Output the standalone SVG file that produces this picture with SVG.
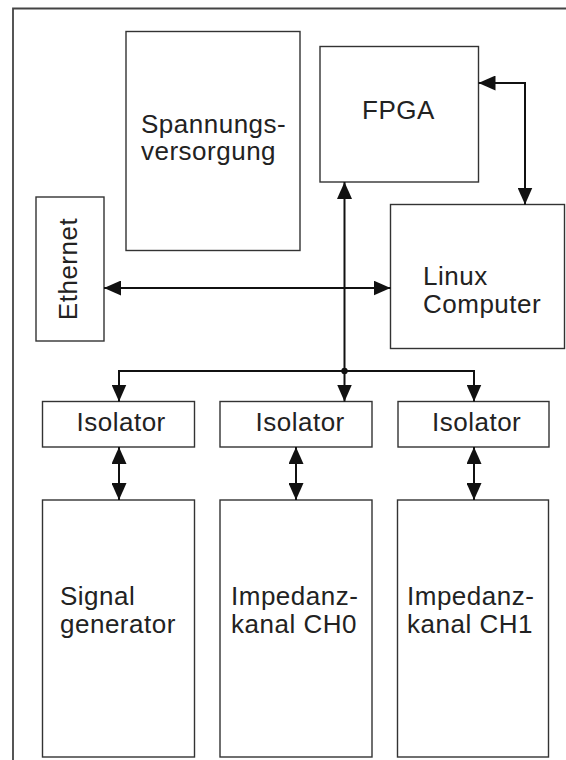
<svg xmlns="http://www.w3.org/2000/svg" width="566" height="760" viewBox="0 0 566 760">
  <style>
    .box { fill: #ffffff; stroke: #333333; stroke-width: 1.4; }
    .frame { fill: none; stroke: #444444; stroke-width: 1.8; }
    .conn { fill: none; stroke: #111111; stroke-width: 2; }
    .lbl { font-family: "Liberation Sans", Arial, sans-serif; font-size: 26px; fill: #222222; letter-spacing: 0.5px; }
  </style>
  <defs>
    <marker id="arr" viewBox="0 0 17 15" refX="17" refY="7.5" markerWidth="17" markerHeight="15" markerUnits="userSpaceOnUse" orient="auto-start-reverse">
      <path d="M0,0 L17,7.5 L0,15 Z" fill="#111111"/>
    </marker>
  </defs>
  <rect width="566" height="760" fill="#ffffff"/>
  <path class="frame" d="M13,760 V8.5 H566"/>

  <g id="spannungsversorgung">
    <rect class="box" x="126" y="31.5" width="174" height="219"/>
    <text class="lbl" x="141" y="133">Spannungs-</text>
    <text class="lbl" x="141" y="160">versorgung</text>
  </g>
  <g id="fpga">
    <rect class="box" x="320" y="46.5" width="158.5" height="135.5"/>
    <text class="lbl" x="362" y="119">FPGA</text>
  </g>
  <g id="ethernet">
    <rect class="box" x="36" y="197" width="68" height="144"/>
    <text class="lbl" transform="translate(77,269) rotate(-90)" text-anchor="middle" x="0" y="0">Ethernet</text>
  </g>
  <g id="linux">
    <rect class="box" x="390.5" y="204.5" width="174" height="144"/>
    <text class="lbl" x="423" y="285">Linux</text>
    <text class="lbl" x="423" y="313">Computer</text>
  </g>
  <g id="isolator0">
    <rect class="box" x="42.5" y="401.5" width="152" height="45.5"/>
    <text class="lbl" x="76.5" y="431">Isolator</text>
  </g>
  <g id="isolator1">
    <rect class="box" x="220" y="401.5" width="152" height="45.5"/>
    <text class="lbl" x="255.5" y="431">Isolator</text>
  </g>
  <g id="isolator2">
    <rect class="box" x="398" y="401.5" width="151" height="45.5"/>
    <text class="lbl" x="432" y="431">Isolator</text>
  </g>
  <g id="signalgenerator">
    <rect class="box" x="42.5" y="500" width="152" height="257"/>
    <text class="lbl" x="60" y="605">Signal</text>
    <text class="lbl" x="60" y="633">generator</text>
  </g>
  <g id="ch0">
    <rect class="box" x="220" y="500" width="152" height="257"/>
    <text class="lbl" x="231" y="605">Impedanz-</text>
    <text class="lbl" x="231" y="633">kanal CH0</text>
  </g>
  <g id="ch1">
    <rect class="box" x="397.5" y="500" width="151" height="257"/>
    <text class="lbl" x="407" y="605">Impedanz-</text>
    <text class="lbl" x="407" y="633">kanal CH1</text>
  </g>

  <g id="connectors">
    <path class="conn" d="M478.5,83 H525 V204.5" marker-start="url(#arr)" marker-end="url(#arr)"/>
    <path class="conn" d="M104,288 H390.5" marker-start="url(#arr)" marker-end="url(#arr)"/>
    <path class="conn" d="M344.5,371 V182" marker-end="url(#arr)"/>
    <path class="conn" d="M119,401.5 V371 H474 V401.5" marker-start="url(#arr)" marker-end="url(#arr)"/>
    <path class="conn" d="M344.5,371 V401.5" marker-end="url(#arr)"/>
    <circle cx="344.5" cy="371" r="3.2" fill="#111111"/>
    <path class="conn" d="M119,447 V500" marker-start="url(#arr)" marker-end="url(#arr)"/>
    <path class="conn" d="M296,447 V500" marker-start="url(#arr)" marker-end="url(#arr)"/>
    <path class="conn" d="M474,447 V500" marker-start="url(#arr)" marker-end="url(#arr)"/>
  </g>
</svg>
